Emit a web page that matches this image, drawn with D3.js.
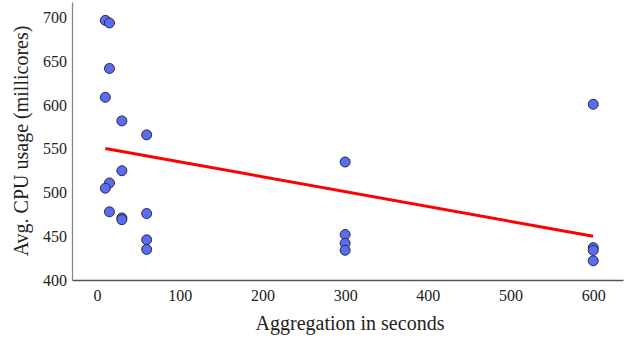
<!DOCTYPE html>
<html>
<head>
<meta charset="utf-8">
<script src="https://cdn.jsdelivr.net/npm/d3@7"></script>
<style>
  html, body { margin: 0; padding: 0; background: #fff; }
  svg { display: block; }
</style>
</head>
<body>
<svg id="chart" width="629" height="339"></svg>
<script>
// aggregation window (s) and average cpu usage (millicores)
const aggSeconds = [10, 15, 15, 10, 30, 60, 30, 15, 10, 15, 30, 30, 60, 60, 60,
                    300, 300, 300, 300, 600, 600, 600, 600]
const cpuUsage = [697, 694, 642, 609, 582, 566, 525, 511, 505, 478, 471, 469, 476, 446, 435,
                  535, 452, 442, 434, 601, 437, 434, 422]

// fitted trend line end points
const fitX = [10, 600]
const fitY = [550.5, 450]

const xTicks = [0, 100, 200, 300, 400, 500, 600]
const yTicks = [400, 450, 500, 550, 600, 650, 700]

const serif = "'Liberation Serif', Tinos, 'Times New Roman', 'DejaVu Serif', serif"

const svg = d3.select('#chart')
const margin = { top: 2, right: 6, bottom: 59, left: 72 }
const width = 629, height = 339

const x = d3.scaleLinear().domain([-30.3, 636]).range([margin.left, width - margin.right])
const y = d3.scaleLinear().domain([400, 718]).range([height - margin.bottom, margin.top])

// axes without tick marks
const gx = svg.append('g')
    .attr('transform', `translate(0,${ height - margin.bottom })`)
    .call(d3.axisBottom(x).tickValues(xTicks).tickSize(0).tickPadding(10).tickSizeOuter(0))
    .attr('font-family', serif)
gx.select('.domain').attr('stroke', '#555').attr('stroke-width', 1.3)
gx.selectAll('text').attr('font-size', 16).attr('fill', '#222').style('font-family', serif)

const gy = svg.append('g')
    .attr('transform', `translate(${ margin.left },0)`)
    .call(d3.axisLeft(y).tickValues(yTicks).tickSize(0).tickPadding(5).tickSizeOuter(0))
    .attr('font-family', serif)
gy.select('.domain').attr('stroke', '#888').attr('stroke-width', 1.3)
gy.selectAll('text').attr('font-size', 16).attr('fill', '#222').style('font-family', serif)

svg.append('text')
    .attr('x', 350).attr('y', 330)
    .attr('text-anchor', 'middle')
    .attr('font-size', 20).attr('fill', '#222')
    .style('font-family', serif)
    .text('Aggregation in seconds')

svg.append('text')
    .attr('transform', `translate(28,${ 141 }) rotate(-90)`)
    .attr('text-anchor', 'middle')
    .attr('font-size', 20).attr('fill', '#222')
    .style('font-family', serif)
    .text('Avg. CPU usage (millicores)')

svg.append('g').selectAll('circle')
    .data(aggSeconds.map((d, i) => [d, cpuUsage[i]]))
    .join('circle')
    .attr('cx', d => x(d[0]))
    .attr('cy', d => y(d[1]))
    .attr('r', 5)
    .attr('fill', '#5b6cf0')
    .attr('stroke', '#2a2a44')
    .attr('stroke-width', 1)

const line = d3.line().x(d => x(d[0])).y(d => y(d[1]))
svg.append('path')
    .datum(fitX.map((d, i) => [d, fitY[i]]))
    .attr('fill', 'none')
    .attr('stroke', 'red')
    .attr('stroke-width', 3)
    .attr('d', line)
</script>
</body>
</html>
